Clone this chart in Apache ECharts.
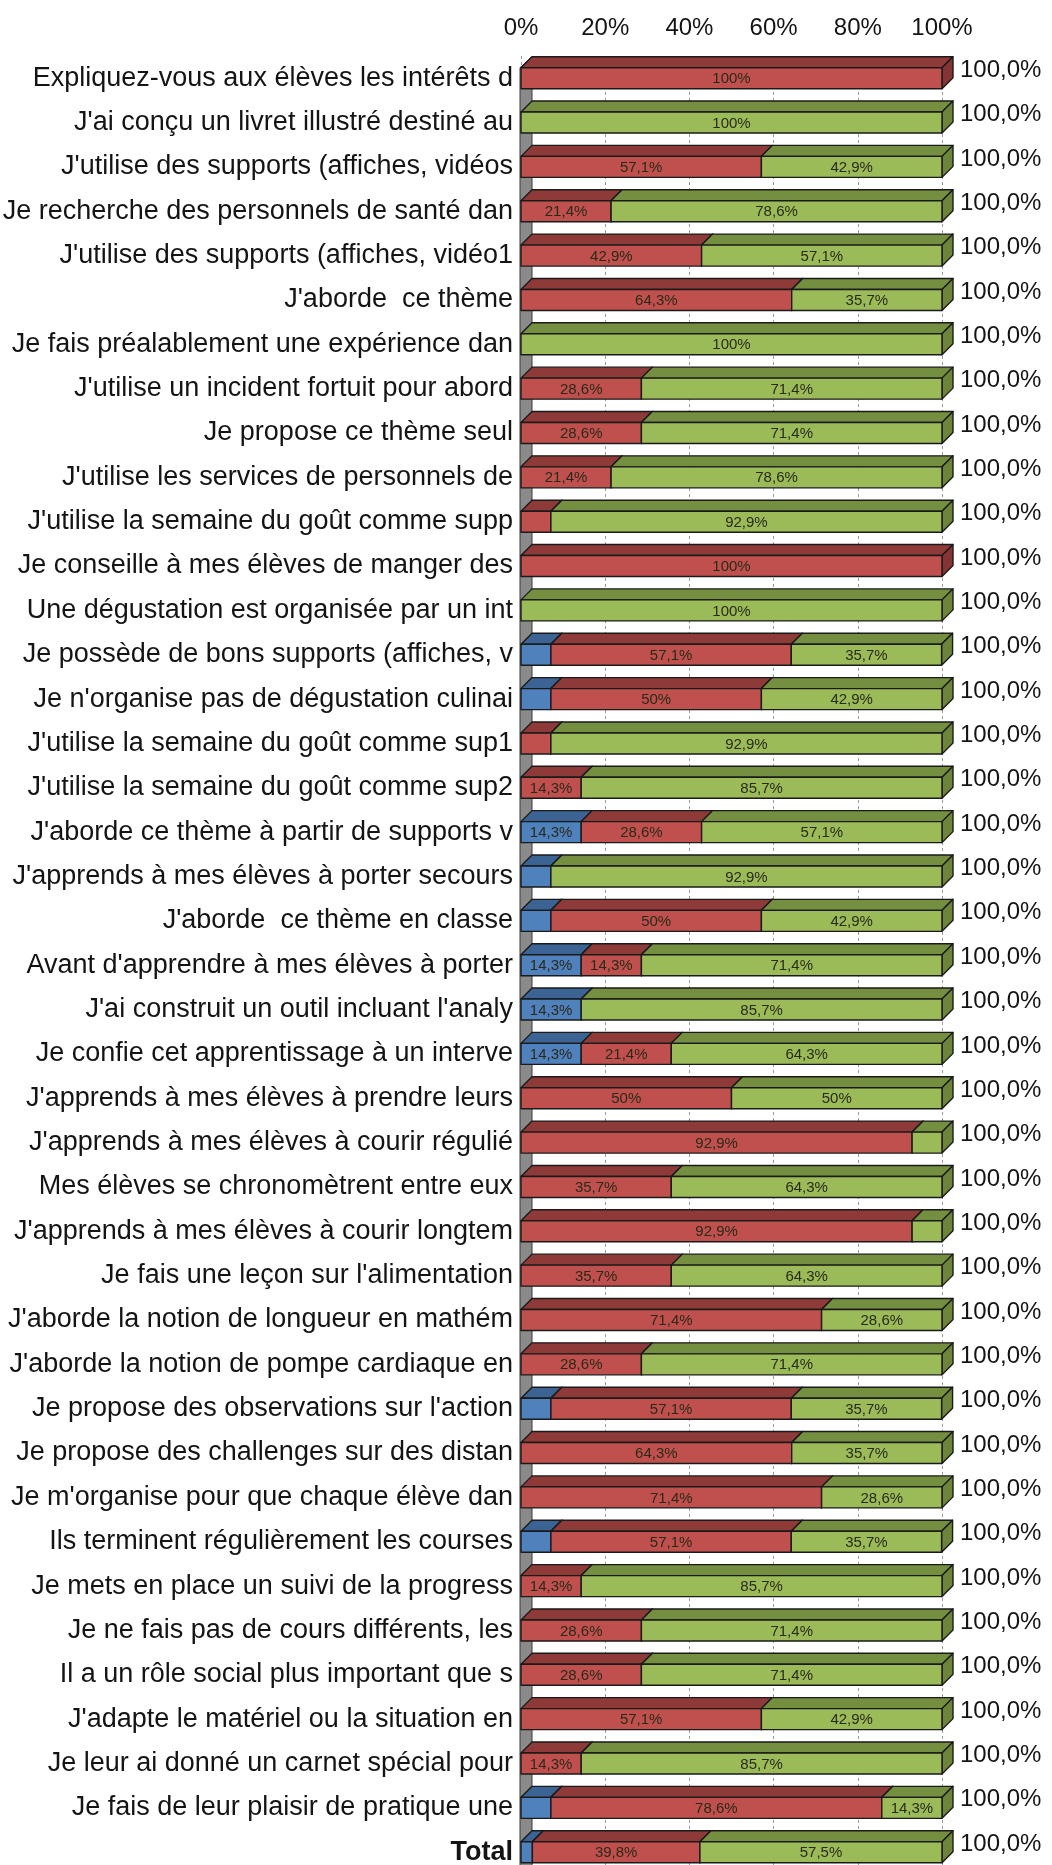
<!DOCTYPE html>
<html>
<head>
<meta charset="utf-8">
<script src="https://cdn.jsdelivr.net/npm/echarts@6/dist/echarts.min.js"></script>
<style>
  html, body { margin: 0; padding: 0; background: #ffffff; }
  #chart { width: 1052px; height: 1865px; }
</style>
</head>
<body>
<div id="chart"></div>
<script>
// Survey answers, one row per statement (percent of respondents)
const categories = [
  "Expliquez-vous aux élèves les intérêts d",
  "J'ai conçu un livret illustré destiné au",
  "J'utilise des supports (affiches, vidéos",
  "Je recherche des personnels de santé dan",
  "J'utilise des supports (affiches, vidéo1",
  "J'aborde  ce thème",
  "Je fais préalablement une expérience dan",
  "J'utilise un incident fortuit pour abord",
  "Je propose ce thème seul",
  "J'utilise les services de personnels de",
  "J'utilise la semaine du goût comme supp",
  "Je conseille à mes élèves de manger des",
  "Une dégustation est organisée par un int",
  "Je possède de bons supports (affiches, v",
  "Je n'organise pas de dégustation culinai",
  "J'utilise la semaine du goût comme sup1",
  "J'utilise la semaine du goût comme sup2",
  "J'aborde ce thème à partir de supports v",
  "J'apprends à mes élèves à porter secours",
  "J'aborde  ce thème en classe",
  "Avant d'apprendre à mes élèves à porter",
  "J'ai construit un outil incluant l'analy",
  "Je confie cet apprentissage à un interve",
  "J'apprends à mes élèves à prendre leurs",
  "J'apprends à mes élèves à courir régulié",
  "Mes élèves se chronomètrent entre eux",
  "J'apprends à mes élèves à courir longtem",
  "Je fais une leçon sur l'alimentation",
  "J'aborde la notion de longueur en mathém",
  "J'aborde la notion de pompe cardiaque en",
  "Je propose des observations sur l'action",
  "Je propose des challenges sur des distan",
  "Je m'organise pour que chaque élève dan",
  "Ils terminent régulièrement les courses",
  "Je mets en place un suivi de la progress",
  "Je ne fais pas de cours différents, les",
  "Il a un rôle social plus important que s",
  "J'adapte le matériel ou la situation en",
  "Je leur ai donné un carnet spécial pour",
  "Je fais de leur plaisir de pratique une",
  "Total"
];

const blueValues = [
  0, 0, 0, 0, 0, 0, 0, 0, 0, 0,
  0, 0, 0, 7.1, 7.1, 0, 0, 14.3, 7.1, 7.1,
  14.3, 14.3, 14.3, 0, 0, 0, 0, 0, 0, 0,
  7.1, 0, 0, 7.1, 0, 0, 0, 0, 0, 7.1,
  2.7
];

const redValues = [
  100, 0, 57.1, 21.4, 42.9, 64.3, 0, 28.6, 28.6, 21.4,
  7.1, 100, 0, 57.1, 50, 7.1, 14.3, 28.6, 0, 50,
  14.3, 0, 21.4, 50, 92.9, 35.7, 92.9, 35.7, 71.4, 28.6,
  57.1, 64.3, 71.4, 57.1, 14.3, 28.6, 28.6, 57.1, 14.3, 78.6,
  39.8
];

const greenValues = [
  0, 100, 42.9, 78.6, 57.1, 35.7, 100, 71.4, 71.4, 78.6,
  92.9, 0, 100, 35.7, 42.9, 92.9, 85.7, 57.1, 92.9, 42.9,
  71.4, 85.7, 64.3, 50, 7.1, 64.3, 7.1, 64.3, 28.6, 71.4,
  35.7, 35.7, 28.6, 35.7, 85.7, 71.4, 71.4, 42.9, 85.7, 14.3,
  57.5
];

// Row totals printed at the end of each bar
const rowTotals = [
  100, 100, 100, 100, 100, 100, 100, 100, 100, 100,
  100, 100, 100, 100, 100, 100, 100, 100, 100, 100,
  100, 100, 100, 100, 100, 100, 100, 100, 100, 100,
  100, 100, 100, 100, 100, 100, 100, 100, 100, 100,
  100
];

const axisTicks = [0, 20, 40, 60, 80, 100];

// Look of the extruded bars
const FONT = "'Liberation Sans', Arial, sans-serif";
const FRONT_H = 21;   // height of the front face
const DEPTH_X = 11;   // extrusion offset to the right
const DEPTH_Y = 11;   // extrusion offset upwards
const palette = {
  blue:  { front: '#4F81BD', top: '#3B6394', side: '#355A87' },
  red:   { front: '#C0504D', top: '#8E3A39', side: '#843533' },
  green: { front: '#9BBB59', top: '#758F40', side: '#6C853A' }
};

function fmtValue(v) {
  return (Math.round(v * 10) % 10 === 0 ? String(Math.round(v)) : v.toFixed(1).replace('.', ',')) + '%';
}

// Build [start, end, rowIndex, value] items for each stacked layer
const layers = [blueValues, redValues, greenValues];
const starts = layers.map(() => []);
categories.forEach((_, i) => {
  let acc = 0;
  layers.forEach((arr, k) => { starts[k][i] = acc; acc += arr[i]; });
});
function layerData(k) {
  return categories.map((_, i) => [starts[k][i], starts[k][i] + layers[k][i], i, layers[k][i]]);
}
const totalData = rowTotals.map((t, i) => [t, i]);

function boxRenderer(col) {
  return function (params, api) {
    const v = api.value(3);
    if (!v) return null;
    const c = api.value(2);
    const a = api.coord([api.value(0), c]);
    const b = api.coord([api.value(1), c]);
    const yTop = a[1] - FRONT_H / 2;
    const yBot = a[1] + FRONT_H / 2;
    const x0 = a[0], x1 = b[0];
    const stroke = { stroke: '#1a1a1a', lineWidth: 1.4, lineJoin: 'round' };
    const children = [
      { type: 'polygon',
        shape: { points: [[x0, yTop], [x0 + DEPTH_X, yTop - DEPTH_Y], [x1 + DEPTH_X, yTop - DEPTH_Y], [x1, yTop]] },
        style: Object.assign({ fill: col.top }, stroke) },
      { type: 'polygon',
        shape: { points: [[x1, yTop], [x1 + DEPTH_X, yTop - DEPTH_Y], [x1 + DEPTH_X, yBot - DEPTH_Y], [x1, yBot]] },
        style: Object.assign({ fill: col.side }, stroke) },
      { type: 'rect',
        shape: { x: x0, y: yTop, width: x1 - x0, height: FRONT_H },
        style: Object.assign({ fill: col.front }, stroke) }
    ];
    if (v >= 10) {
      children.push({
        type: 'text',
        style: {
          x: (x0 + x1) / 2, y: a[1] + 1, text: fmtValue(v),
          align: 'center', verticalAlign: 'middle',
          fill: '#2a2a1a', font: '15px ' + FONT
        }
      });
    }
    return { type: 'group', children: children };
  };
}

// Grey side wall at the left of the plot
function wallRenderer(params, api) {
  const first = api.coord([0, 0]);
  const last = api.coord([0, categories.length - 1]);
  const band = api.size([0, 1])[1];
  const yTop = first[1] - FRONT_H / 2;
  const yBot = last[1] + band / 2 + 10;
  const x = first[0];
  return {
    type: 'polygon',
    shape: { points: [[x - 1, yTop], [x + DEPTH_X, yTop - DEPTH_Y], [x + DEPTH_X, yBot], [x - 1, yBot]] },
    style: { fill: '#8a8a8a', stroke: '#3a3a3a', lineWidth: 1 }
  };
}

function totalRenderer(params, api) {
  const p = api.coord([api.value(0), api.value(1)]);
  return {
    type: 'text',
    style: {
      x: p[0] + DEPTH_X + 7, y: p[1] - 8,
      text: api.value(0).toFixed(1).replace('.', ',') + '%',
      align: 'left', verticalAlign: 'middle',
      fill: '#141414', font: '24px ' + FONT
    }
  };
}

const chart = echarts.init(document.getElementById('chart'), null, { renderer: 'canvas' });
const ROW = 44.35;
chart.setOption({
  backgroundColor: '#ffffff',
  animation: false,
  grid: {
    left: 521, width: 421, top: 56, height: ROW * categories.length,
    containLabel: false, outerBoundsMode: 'none'
  },
  xAxis: {
    type: 'value', position: 'top', min: 0, max: 100, interval: 20,
    axisLine: { show: false }, axisTick: { show: false },
    axisLabel: {
      margin: 16, fontSize: 24, color: '#141414', fontFamily: FONT,
      formatter: v => axisTicks.includes(v) ? v + '%' : ''
    },
    splitLine: { show: true, lineStyle: { color: '#9a9a9a', type: [3, 3], width: 1 } }
  },
  yAxis: {
    type: 'category', inverse: true, data: categories,
    axisLine: { show: false }, axisTick: { show: false },
    axisLabel: {
      margin: 8, fontSize: 27, color: '#141414', fontFamily: FONT,
      formatter: v => v === 'Total' ? '{b|Total}' : v,
      rich: { b: { fontSize: 27, fontWeight: 'bold', color: '#141414', fontFamily: FONT } }
    }
  },
  series: [
    { type: 'custom', name: 'wall', renderItem: wallRenderer, data: [[0, 0]], encode: { x: 0, y: 1 }, silent: true, z: 1 },
    { type: 'custom', name: 'blue', renderItem: boxRenderer(palette.blue), data: layerData(0), encode: { x: [0, 1], y: 2 }, z: 2 },
    { type: 'custom', name: 'red', renderItem: boxRenderer(palette.red), data: layerData(1), encode: { x: [0, 1], y: 2 }, z: 3 },
    { type: 'custom', name: 'green', renderItem: boxRenderer(palette.green), data: layerData(2), encode: { x: [0, 1], y: 2 }, z: 4 },
    { type: 'custom', name: 'total', renderItem: totalRenderer, data: totalData, encode: { x: 0, y: 1 }, z: 5 }
  ]
});
</script>
</body>
</html>
